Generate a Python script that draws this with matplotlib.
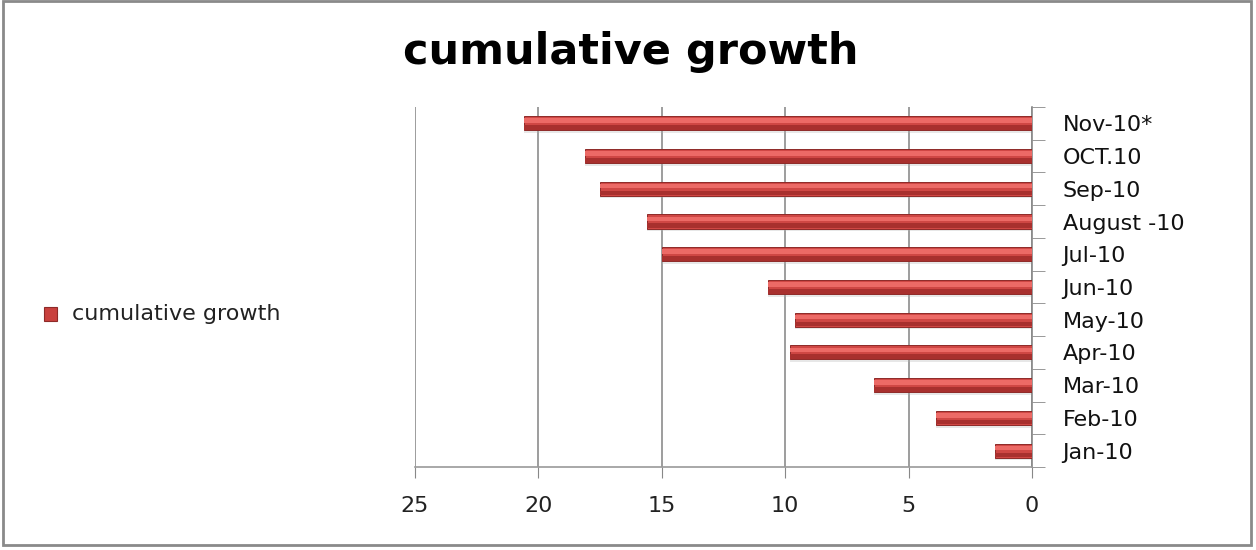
import matplotlib.pyplot as plt
from matplotlib.patches import Rectangle

months = ["Jan-10", "Feb-10", "Mar-10", "Apr-10", "May-10", "Jun-10",
          "Jul-10", "August -10", "Sep-10", "OCT.10", "Nov-10*"]
growth = [1.5, 3.9, 6.4, 9.8, 9.6, 10.7, 15.0, 15.6, 17.5, 18.1, 20.6]
xticks = [0, 5, 10, 15, 20, 25]

plt.rcParams['font.family'] = ['DejaVu Sans']

fig = plt.figure(figsize=(12.56, 5.5), dpi=100)
ax = fig.add_axes([0.3304, 0.1509, 0.4913, 0.6546])

pos = list(range(len(months)))
# shadow, body, dark lower band and highlight to fake the bevelled look
ax.barh([p - 0.08 for p in pos], growth, height=0.43, color='#b0b0b0', alpha=0.3, zorder=2)
ax.barh(pos, growth, height=0.43, color='#cf4744', edgecolor='#8e2a28', linewidth=0.7, zorder=3)
ax.barh([p - 0.13 for p in pos], growth, height=0.14, color='#a8302e', linewidth=0, zorder=4)
ax.barh([p + 0.08 for p in pos], growth, height=0.14, color='#ec6a66', linewidth=0, zorder=4)

ax.set_xlim(25, 0)
ax.set_ylim(-0.5, len(months) - 0.5)
ax.set_xticks(xticks)
ax.set_xticklabels([str(v) for v in xticks], fontsize=16, color='#222222')
ax.tick_params(axis='x', length=8, color='#888888', pad=13)

ax.yaxis.tick_right()
ax.set_yticks(pos)
ax.set_yticklabels(months, fontsize=16, color='#111111')
ax.set_yticks([p - 0.5 for p in pos] + [len(months) - 0.5], minor=True)
ax.tick_params(axis='y', which='major', length=0, pad=22)
ax.tick_params(axis='y', which='minor', length=9, color='#888888', direction='out')

ax.grid(axis='x', color='#8c8c8c', linewidth=1.2, zorder=0)
ax.set_axisbelow(True)
for s in ['top', 'left']:
    ax.spines[s].set_visible(False)
ax.spines['right'].set_color('#888888')
ax.spines['bottom'].set_color('#999999')
ax.spines['right'].set_linewidth(1.2)
ax.spines['bottom'].set_linewidth(1.2)

fig.text(0.502, 0.905, "cumulative growth", ha='center', va='center',
         fontsize=31, fontweight='bold', color='#000000')

# legend
fig.patches.append(Rectangle((0.035, 0.417), 0.0105, 0.024, transform=fig.transFigure,
                             facecolor='#c9413e', edgecolor='#8e2a28', linewidth=0.8))
fig.text(0.057, 0.43, "cumulative growth", ha='left', va='center', fontsize=16, color='#222222')

fig.patches.append(Rectangle((0.002, 0.01), 0.994, 0.988, transform=fig.transFigure,
                             fill=False, edgecolor='#8a8a8a', linewidth=2))

fig.savefig('out.png', dpi=100)
